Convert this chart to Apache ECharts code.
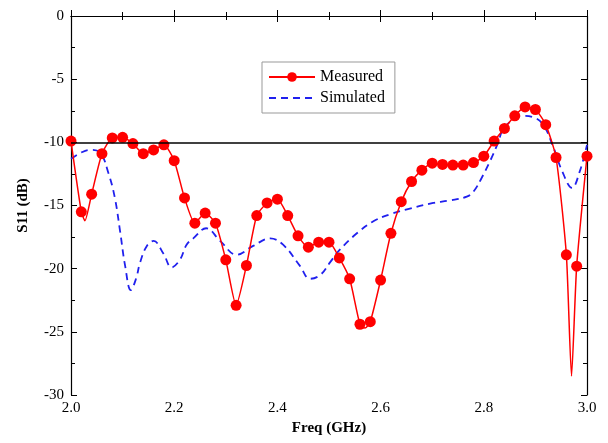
<!DOCTYPE html>
<html>
<head>
<meta charset="utf-8">
<script src="https://cdn.jsdelivr.net/npm/echarts@6/dist/echarts.min.js"></script>
<style>
  html, body { margin: 0; padding: 0; background: #fff; }
  #chart { width: 608px; height: 443px; }
</style>
</head>
<body>
<div id="chart"></div>
<script>
// measured: markers every 0.02 GHz
const measFreq = [2.00, 2.02, 2.04, 2.06, 2.08, 2.10, 2.12, 2.14, 2.16, 2.18,
  2.20, 2.22, 2.24, 2.26, 2.28, 2.30, 2.32, 2.34, 2.36, 2.38,
  2.40, 2.42, 2.44, 2.46, 2.48, 2.50, 2.52, 2.54, 2.56, 2.58,
  2.60, 2.62, 2.64, 2.66, 2.68, 2.70, 2.72, 2.74, 2.76, 2.78,
  2.80, 2.82, 2.84, 2.86, 2.88, 2.90, 2.92, 2.94, 2.96, 2.98, 3.00]
const measS11 = [-9.9, -15.5, -14.1, -10.9, -9.65, -9.6, -10.1, -10.9, -10.6, -10.2,
  -11.45, -14.4, -16.4, -15.6, -16.4, -19.3, -22.9, -19.75, -15.8, -14.8,
  -14.5, -15.8, -17.4, -18.3, -17.9, -17.9, -19.15, -20.8, -24.4, -24.2,
  -20.9, -17.2, -14.7, -13.1, -12.2, -11.65, -11.75, -11.8, -11.8, -11.6,
  -11.1, -9.9, -8.9, -7.9, -7.2, -7.4, -8.6, -11.2, -18.9, -19.8, -11.1]
// extra points of the measured curve between markers (no marker drawn)
const measExtraFreq = [2.027, 2.57, 2.97]
const measExtraS11 = [-16.2, -24.7, -28.5]

const simFreq = [2.0, 2.02, 2.037, 2.056, 2.073, 2.085, 2.095, 2.105, 2.116, 2.126, 2.134,
  2.147, 2.16, 2.179, 2.195, 2.211, 2.224, 2.237, 2.262, 2.289, 2.321,
  2.353, 2.386, 2.411, 2.444, 2.463, 2.483, 2.502, 2.521, 2.554, 2.586,
  2.618, 2.651, 2.702, 2.734, 2.767, 2.78, 2.796, 2.812, 2.828, 2.837,
  2.857, 2.876, 2.895, 2.915, 2.934, 2.952, 2.971, 2.986, 3.0]
const simS11 = [-11.3, -10.8, -10.6, -10.8, -12.5, -14.4, -17.0, -19.8, -21.7, -20.8, -19.5,
  -18.2, -17.8, -18.8, -19.9, -19.3, -18.1, -17.6, -16.8, -17.8, -18.9,
  -18.2, -17.6, -18.1, -19.8, -20.8, -20.5, -19.5, -18.5, -17.2, -16.25,
  -15.7, -15.3, -14.8, -14.6, -14.3, -13.9, -12.8, -11.5, -10.0, -9.0,
  -8.2, -7.9, -8.0, -8.6, -10.3, -12.3, -13.6, -12.3, -10.2]

const refLevel = -10

const measPts = measFreq.map((f, i) => ({ value: [f, measS11[i]] }))
measExtraFreq.forEach((f, i) => measPts.push({ value: [f, measExtraS11[i]], symbol: 'none' }))
measPts.sort((a, b) => a.value[0] - b.value[0])

const font = 'Liberation Serif'
const axisLine = { show: true, lineStyle: { color: '#000', width: 1.2 } }
const tick = { show: true, inside: true, length: 6, lineStyle: { color: '#000' } }
const minor = { show: true, splitNumber: 2, length: 4, lineStyle: { color: '#000' } }

const chart = echarts.init(document.getElementById('chart'))
chart.setOption({
  animation: false,
  backgroundColor: '#fff',
  textStyle: { fontFamily: font },
  grid: { left: 71, right: 21, top: 16, bottom: 48 },
  legend: {
    orient: 'vertical',
    left: 262, top: 62,
    padding: [7, 10, 7, 6],
    itemGap: 5,
    itemWidth: 46, itemHeight: 12,
    borderColor: '#999', borderWidth: 1,
    textStyle: { fontFamily: font, fontSize: 16, color: '#000' },
    data: ['Measured', { name: 'Simulated', itemStyle: { opacity: 0 } }]
  },
  xAxis: [{
    type: 'value', min: 2, max: 3, interval: 0.2,
    name: 'Freq (GHz)', nameLocation: 'middle', nameGap: 26,
    nameTextStyle: { fontFamily: font, fontSize: 15, fontWeight: 'bold', color: '#000' },
    axisLine, axisTick: tick, minorTick: minor,
    splitLine: { show: false },
    axisLabel: { color: '#000', fontSize: 15, margin: 6, formatter: v => v.toFixed(1) }
  }, {
    type: 'value', min: 2, max: 3, interval: 0.2, position: 'top',
    axisLine, axisTick: tick, minorTick: minor,
    splitLine: { show: false }, axisLabel: { show: false }
  }],
  yAxis: [{
    type: 'value', min: -30, max: 0, interval: 5,
    name: 'S11 (dB)', nameLocation: 'middle', nameGap: 40,
    nameTextStyle: { fontFamily: font, fontSize: 15, fontWeight: 'bold', color: '#000' },
    axisLine, axisTick: tick, minorTick: minor,
    splitLine: { show: false },
    axisLabel: { color: '#000', fontSize: 15, margin: 7 }
  }, {
    type: 'value', min: -30, max: 0, interval: 5, position: 'right',
    axisLine, axisTick: tick, minorTick: minor,
    splitLine: { show: false }, axisLabel: { show: false }
  }],
  series: [{
    name: 'Measured',
    type: 'line',
    data: measPts,
    smooth: 0.2,
    symbol: 'circle',
    symbolSize: 11,
    color: '#ff0000',
    lineStyle: { width: 1.5, color: '#ff0000' },
    itemStyle: { color: '#ff0000' },
    z: 3,
    markLine: {
      silent: true,
      symbol: 'none',
      label: { show: false },
      lineStyle: { color: '#000', type: 'solid', width: 1.5 },
      data: [{ yAxis: refLevel }]
    }
  }, {
    name: 'Simulated',
    type: 'line',
    data: simFreq.map((f, i) => [f, simS11[i]]),
    smooth: 0.4,
    showSymbol: false,
    symbol: 'none',
    color: '#2020ee',
    lineStyle: { width: 1.8, color: '#2020ee', type: [7, 5] },
    z: 2
  }]
})
</script>
</body>
</html>
